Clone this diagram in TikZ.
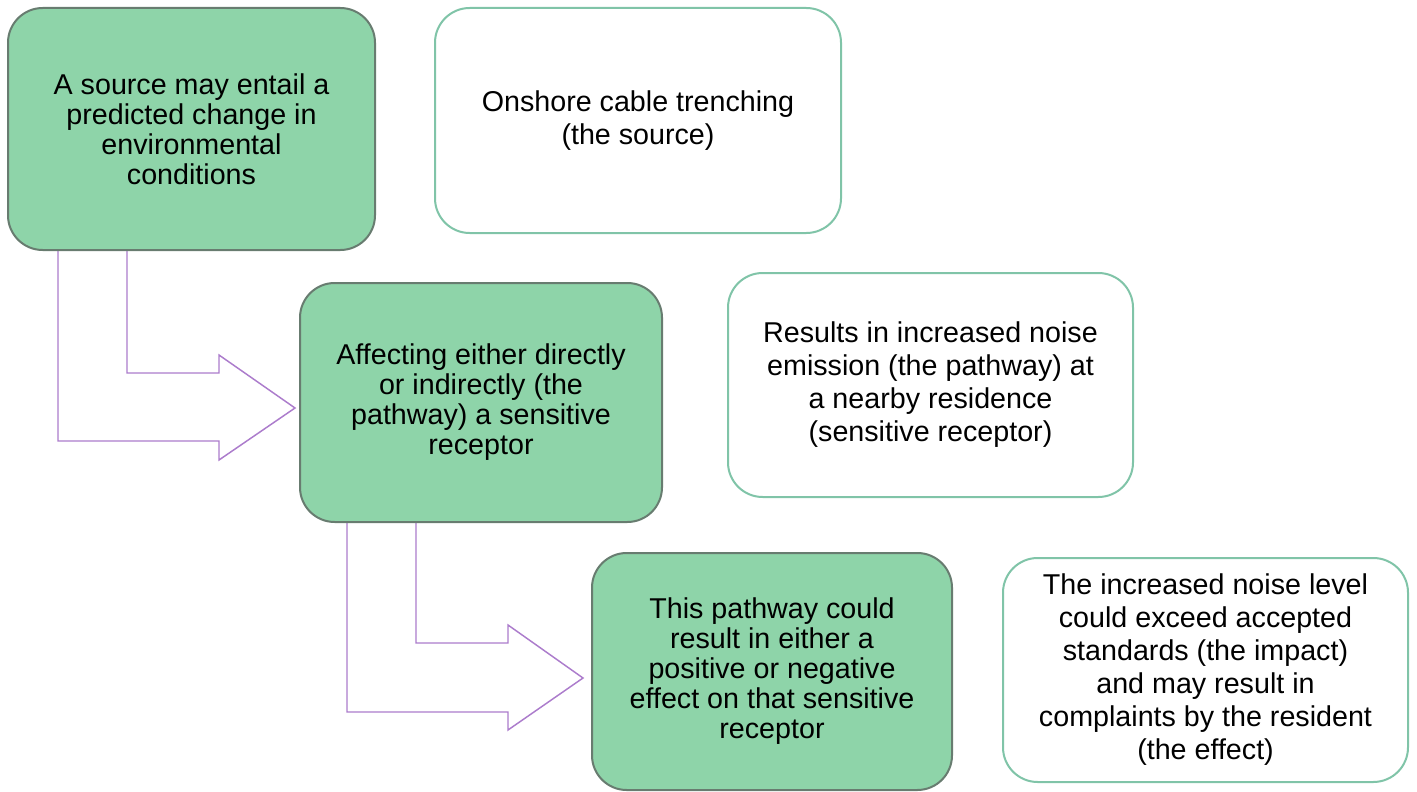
\documentclass[tikz,border=0pt]{standalone}
\usepackage{fontspec}
\setmainfont{Liberation Sans}
\definecolor{stagefill}{RGB}{142,212,169}
\definecolor{stageline}{RGB}{104,124,112}
\definecolor{egline}{RGB}{128,196,168}
\definecolor{bentline}{RGB}{172,124,204}

\begin{document}
\begin{tikzpicture}[x=0.75pt, y=-0.75pt,
      stage/.style={draw=stageline, line width=1.5pt, fill=stagefill, rounded corners=26pt,
        align=center, inner sep=0pt, font=\fontsize{21.5}{22.5}\selectfont},
      eg/.style={draw=egline, line width=1.5pt, fill=white, rounded corners=26pt,
        align=center, inner sep=0pt, font=\fontsize{21.5}{24.75}\selectfont},
      bentarrow/.style={draw=bentline, line width=1.1pt, fill=white}
    ]
    \useasboundingbox (0,0) rectangle (1417,792);
    % bent block arrows, drawn first so the boxes cover their tops
    \draw[bentarrow] (58,250) -- (58,441) -- (219,441) -- (219,460) -- (295,408)
      -- (219,355) -- (219,373) -- (127,373) -- (127,250) -- cycle;
    \draw[bentarrow] (347,522) -- (347,712) -- (508,712) -- (508,730) -- (583,678)
      -- (508,625) -- (508,643) -- (416,643) -- (416,522) -- cycle;
    \node[stage, minimum width=275.25pt, minimum height=181.5pt] (src) at (191.5,129)
      {A source may entail a\\predicted change in\\environmental\\conditions};
    \node[eg, minimum width=304.5pt, minimum height=168.75pt] (srcex) at (638,120.5)
      {Onshore cable trenching\\(the source)};
    \node[stage, minimum width=271.5pt, minimum height=179.25pt] (path) at (481,402.5)
      {Affecting either directly\\or indirectly (the\\pathway) a sensitive\\receptor};
    \node[eg, minimum width=303.75pt, minimum height=168pt] (pathex) at (930.5,385)
      {Results in increased noise\\emission (the pathway) at\\a nearby residence\\(sensitive receptor)};
    \node[stage, minimum width=270pt, minimum height=177.75pt] (eff) at (772,671.5)
      {This pathway could\\result in either a\\positive or negative\\effect on that sensitive\\receptor};
    \node[eg, minimum width=303.75pt, minimum height=168pt] (effex) at (1205.5,670)
      {The increased noise level\\could exceed accepted\\standards (the impact)\\and may result in\\complaints by the resident\\(the effect)};
  \end{tikzpicture}
\end{document}
